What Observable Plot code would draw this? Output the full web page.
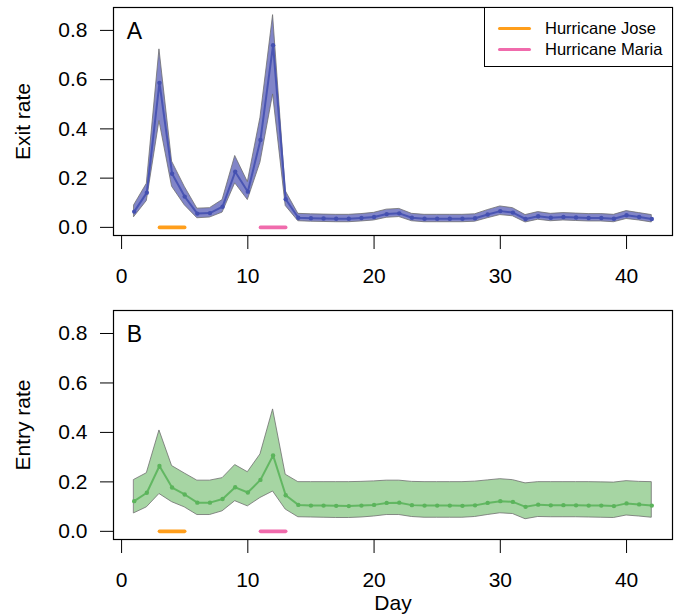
<!DOCTYPE html>
<html><head><meta charset="utf-8">
<script src="https://cdn.jsdelivr.net/npm/d3@7"></script>
<script src="https://cdn.jsdelivr.net/npm/@observablehq/plot@0.6"></script>
<style>
body{margin:0;background:#fff;font-family:"Liberation Sans",Arial,sans-serif;}
#wrap{position:relative;width:677px;height:616px;overflow:hidden;}
#wrap svg{display:block;}
.legend{position:absolute;left:484px;top:7px;width:189px;height:60px;border:1px solid #000;background:#fff;box-sizing:border-box;font-size:16.5px;color:#000;}
.legend .sw{position:absolute;left:13px;width:33px;height:3.5px;border-radius:2px;}
.legend .lab{position:absolute;left:60px;line-height:20px;white-space:nowrap;}
</style></head>
<body><div id="wrap"></div>
<script>
const days = [1,2,3,4,5,6,7,8,9,10,11,12,13,14,15,16,17,18,19,20,21,22,23,24,25,26,27,28,29,30,31,32,33,34,35,36,37,38,39,40,41,42];

const exitMid = [0.064,0.141,0.587,0.218,0.125,0.056,0.058,0.084,0.226,0.145,0.355,0.740,0.114,0.039,
  0.037,0.036,0.035,0.035,0.038,0.042,0.054,0.057,0.039,0.035,0.035,0.035,0.035,0.037,0.052,0.066,
  0.060,0.034,0.045,0.039,0.042,0.040,0.038,0.038,0.035,0.049,0.042,0.034];
const exitLo = [0.042,0.107,0.432,0.165,0.090,0.037,0.040,0.060,0.179,0.111,0.263,0.540,0.087,0.025,
  0.023,0.022,0.021,0.021,0.024,0.028,0.039,0.042,0.025,0.021,0.021,0.021,0.021,0.023,0.037,0.050,
  0.045,0.020,0.031,0.025,0.028,0.026,0.024,0.024,0.021,0.034,0.028,0.020];
const exitHi = [0.090,0.177,0.723,0.267,0.165,0.076,0.078,0.111,0.290,0.184,0.445,0.862,0.147,0.055,
  0.053,0.052,0.051,0.051,0.054,0.059,0.072,0.075,0.055,0.051,0.051,0.051,0.051,0.053,0.070,0.085,
  0.078,0.050,0.062,0.055,0.058,0.056,0.054,0.054,0.051,0.066,0.058,0.050];

const entryMid = [0.122,0.156,0.264,0.177,0.149,0.116,0.116,0.131,0.178,0.157,0.208,0.307,0.146,0.107,
  0.104,0.104,0.103,0.102,0.104,0.107,0.115,0.116,0.106,0.104,0.104,0.104,0.103,0.105,0.115,0.122,
  0.119,0.099,0.108,0.105,0.106,0.105,0.104,0.104,0.102,0.113,0.109,0.104];
const entryLo = [0.073,0.097,0.151,0.118,0.097,0.066,0.066,0.081,0.122,0.101,0.135,0.161,0.088,0.057,
  0.056,0.055,0.054,0.054,0.056,0.060,0.066,0.066,0.058,0.055,0.055,0.055,0.055,0.058,0.066,0.073,
  0.070,0.049,0.058,0.057,0.057,0.057,0.056,0.055,0.054,0.064,0.060,0.055];
const entryHi = [0.208,0.235,0.408,0.264,0.234,0.205,0.205,0.215,0.268,0.239,0.311,0.493,0.229,0.199,
  0.199,0.199,0.199,0.199,0.200,0.202,0.205,0.205,0.200,0.199,0.199,0.199,0.199,0.201,0.206,0.211,
  0.207,0.194,0.199,0.199,0.199,0.199,0.199,0.198,0.197,0.203,0.200,0.199];

const hurricanes = ["Hurricane Jose", "Hurricane Maria"];
const hStart = [3, 11];
const hEnd = [5, 13];
const hColors = ["#FF9E1B", "#F06BAC"];

const xTicks = [0, 10, 20, 30, 40];
const yTicks = [0, 0.2, 0.4, 0.6, 0.8];

const exitData = days.map((d, i) => ({day: d, mid: exitMid[i], lo: exitLo[i], hi: exitHi[i]}));
const entryData = days.map((d, i) => ({day: d, mid: entryMid[i], lo: entryLo[i], hi: entryHi[i]}));
const hData = hurricanes.map((n, i) => ({name: n, start: hStart[i], end: hEnd[i]}));

function panel({data, letter, ylabel, fill, line, height, marginTop, marginBottom, xlabel}) {
  return Plot.plot({
    width: 677, height, marginLeft: 113, marginRight: 5, marginTop, marginBottom,
    style: {fontFamily: '"Liberation Sans", Arial, sans-serif', fontSize: "21px", color: "#000", background: "#fff", overflow: "visible"},
    x: {domain: [-0.64, 43.64]},
    y: {domain: [-0.033, 0.893]},
    color: {domain: hurricanes, range: hColors},
    marks: [
      Plot.areaY(data, {x: "day", y1: "lo", y2: "hi", fill, stroke: "#6e6e6e", strokeWidth: 0.8}),
      Plot.line(data, {x: "day", y: "mid", stroke: line, strokeWidth: 2, strokeOpacity: 0.9}),
      Plot.dot(data, {x: "day", y: "mid", r: 2.2, fill: line, stroke: null}),
      Plot.link(hData, {x1: "start", x2: "end", y1: () => 0, y2: () => 0, stroke: "name", strokeWidth: 3.6, strokeLinecap: "round"}),
      Plot.frame({stroke: "#000", strokeWidth: 1.2}),
      Plot.text([letter], {frameAnchor: "top-left", dx: 21, dy: 24, text: d => d, fontSize: 23, textAnchor: "middle", lineAnchor: "middle"}),
      Plot.axisY(yTicks, {tickFormat: d => d.toFixed(1), tickSize: 13, tickPadding: 13, fontSize: 21, label: ylabel, labelAnchor: "center", labelOffset: 98, labelArrow: "none"}),
      Plot.axisX(xTicks, {tickFormat: d => String(d), tickSize: 14, tickPadding: 19, fontSize: 21, label: xlabel, labelAnchor: "center", labelOffset: 70, labelArrow: "none"})
    ]
  });
}

const wrap = document.getElementById("wrap");
wrap.appendChild(panel({data: exitData, letter: "A", ylabel: "Exit rate", fill: "#8185C8", line: "#4450B0", height: 300, marginTop: 7, marginBottom: 65, xlabel: null}));
wrap.appendChild(panel({data: entryData, letter: "B", ylabel: "Entry rate", fill: "#A6D5A3", line: "#5BB45B", height: 316, marginTop: 10, marginBottom: 77, xlabel: "Day"}));

const leg = document.createElement("div");
leg.className = "legend";
hurricanes.forEach((n, i) => {
  const sw = document.createElement("div");
  sw.className = "sw";
  sw.style.top = (i === 0 ? 18.5 : 39.5) + "px";
  sw.style.background = hColors[i];
  leg.appendChild(sw);
  const lab = document.createElement("div");
  lab.className = "lab";
  lab.style.top = (i === 0 ? 10 : 31) + "px";
  lab.textContent = n;
  leg.appendChild(lab);
});
wrap.appendChild(leg);
</script>
</body></html>
